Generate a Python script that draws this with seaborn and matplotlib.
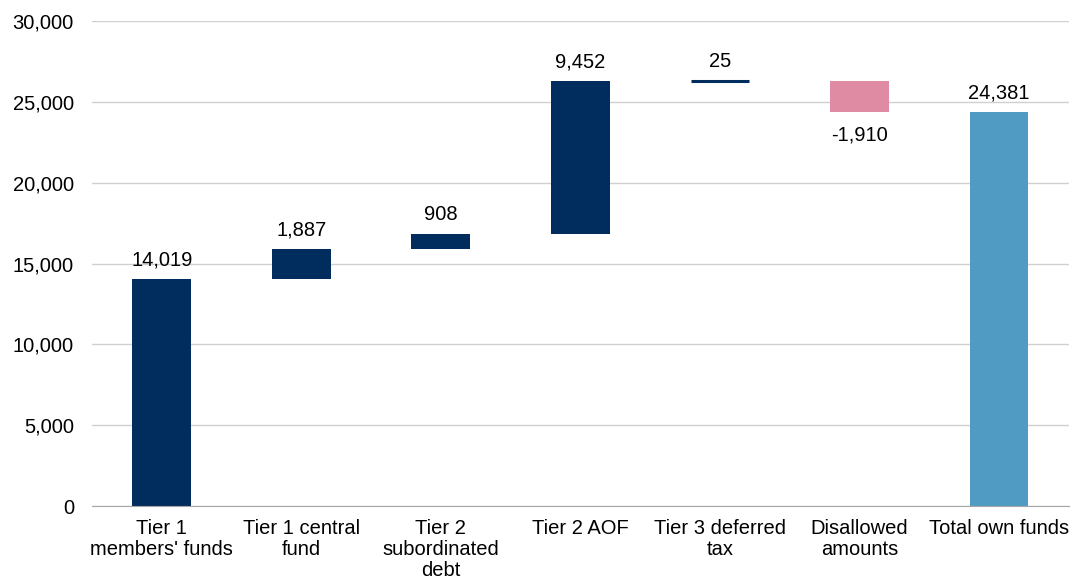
import numpy as np
import pandas as pd
import matplotlib
matplotlib.use('Agg')
import matplotlib.pyplot as plt
import seaborn as sns

# --- dados do gráfico ---
categorias = ["Tier 1\nmembers' funds", "Tier 1 central\nfund", "Tier 2\nsubordinated\ndebt",
              "Tier 2 AOF", "Tier 3 deferred\ntax", "Disallowed\namounts", "Total own funds"]
valores = [14019, 1887, 908, 9452, 25, -1910, 24381]
rotulos = ["14,019", "1,887", "908", "9,452", "25", "-1,910", "24,381"]
tipo = ["pos", "pos", "pos", "pos", "pos", "neg", "total"]

cores = {"pos": "#002D5E", "neg": "#DF8BA4", "total": "#4F9BC3"}

# bases da cascata (acumulado antes de cada passo; total parte do zero)
bases = []
acumulado = 0
for v, t in zip(valores, tipo):
    if t == "total":
        bases.append(0)
    else:
        bases.append(acumulado)
        acumulado += v

df = pd.DataFrame({"categoria": categorias, "valor": valores, "base": bases})

sns.set_style("white")
plt.rcParams['font.family'] = ['Liberation Sans', 'DejaVu Sans']
fs = 14.5

fig = plt.figure(figsize=(10.73, 5.83), dpi=100)
ax = fig.add_axes([0.0857, 0.132, 0.9103, 0.832])

sns.barplot(data=df, x="categoria", y="valor", bottom=df["base"].values,
            width=0.42, color=cores["pos"], ax=ax, zorder=3)

for barra, t, v in zip(ax.patches, tipo, valores):
    barra.set_facecolor(cores[t])
    barra.set_edgecolor(cores[t])
    # barra muito fina (25) aparece como um traço
    barra.set_linewidth(2.2 if abs(v) < 100 else 0)

for i, (v, b, txt) in enumerate(zip(valores, bases, rotulos)):
    if v >= 0:
        ax.annotate(txt, (i, b + v), xytext=(0, 7), textcoords='offset points',
                    ha='center', va='bottom', fontsize=fs, color='black')
    else:
        ax.annotate(txt, (i, b + v), xytext=(0, -10), textcoords='offset points',
                    ha='center', va='top', fontsize=fs, color='black')

ax.set_ylim(0, 30000)
ax.set_xlim(-0.5, len(categorias) - 0.5)
ax.set_yticks(np.arange(0, 30001, 5000))
ax.set_yticklabels([f"{v:,}" for v in range(0, 30001, 5000)], fontsize=fs, color='black')
ax.set_xticks(range(len(categorias)))
ax.set_xticklabels(categorias, fontsize=fs, linespacing=1.15, color='black')
ax.set_xticks(np.arange(-0.5, len(categorias)), minor=True)
ax.tick_params(axis='x', which='major', length=0, pad=9)
ax.tick_params(axis='x', which='minor', length=5, color='#A6A6A6', width=1)
ax.tick_params(axis='y', length=0, pad=13)
ax.set_xlabel("")
ax.set_ylabel("")

ax.yaxis.grid(True, color='#D0D0D0', linewidth=1, zorder=0)
ax.set_axisbelow(True)
for lado in ['top', 'right', 'left']:
    ax.spines[lado].set_visible(False)
ax.spines['bottom'].set_color('#A6A6A6')
ax.spines['bottom'].set_zorder(4)

fig.savefig('out.png', dpi=100)
